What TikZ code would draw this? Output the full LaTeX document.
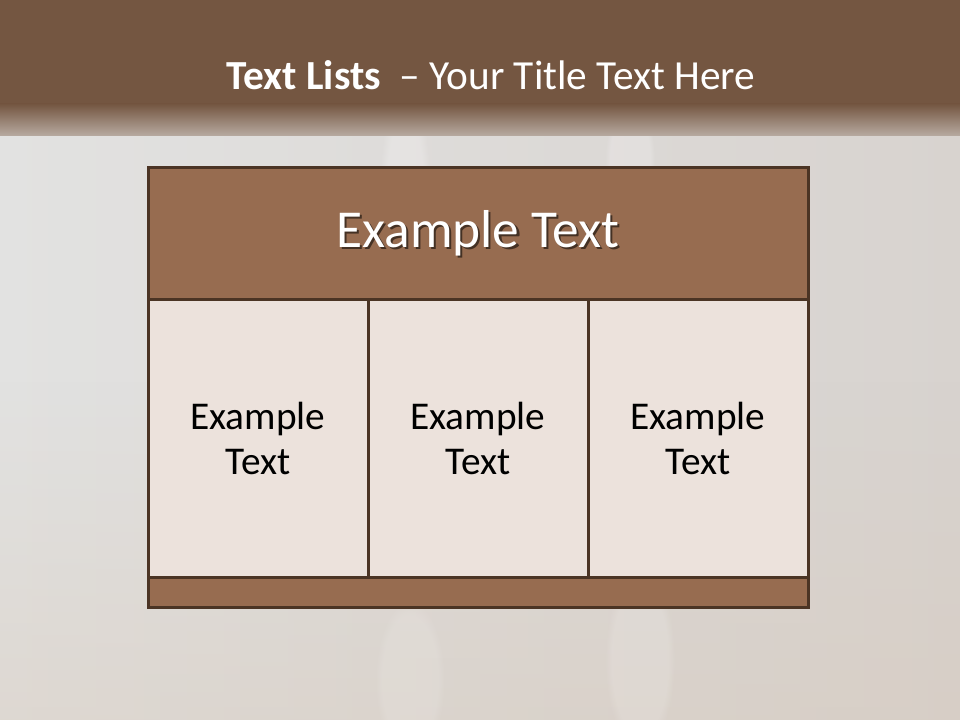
\documentclass[tikz,border=0pt]{standalone}
\usepackage{fontspec}
\setmainfont{Carlito}
\usetikzlibrary{fadings}
\definecolor{bandbrown}{HTML}{745641}
\definecolor{slidebg}{HTML}{DCD8D4}
\definecolor{slideleft}{HTML}{E2E2E1}
\definecolor{slideright}{HTML}{D8D3CF}
\definecolor{headfill}{HTML}{976C50}
\definecolor{cellfill}{HTML}{ECE2DC}
\definecolor{edgebrown}{HTML}{4B3424}
\newcommand{\shadowed}[1]{\makebox[0pt][l]{\raisebox{-1.6pt}{\hspace{1.6pt}\textcolor{black!55!headfill}{#1}}}#1}
\begin{document}
\begin{tikzpicture}[x=0.75pt,y=-0.75pt,line join=miter,
    framebox/.style={draw=edgebrown,line width=2.25pt,outer sep=0pt,inner sep=0pt},
    headbox/.style={framebox,fill=headfill,minimum width=495pt,minimum height=99pt,
      text=white,font=\fontsize{40}{48}\selectfont},
    cellbox/.style={framebox,fill=cellfill,minimum width=165pt,minimum height=207.75pt,
      align=center,font=\fontsize{29.5}{34}\selectfont},
    footbox/.style={framebox,fill=headfill,minimum width=495pt,minimum height=22.5pt},
    glow/.style={white,path fading=circle with fuzzy edge 20 percent}]
  \useasboundingbox (0,0) rectangle (960,720);
  % backdrop
  \shade[left color=slideleft,right color=slideright] (0,0) rectangle (960,720);
  \fill[slidebg!80!brown,opacity=0.35,path fading=north] (0,380) rectangle (960,720);
  \fill[glow,opacity=0.22] (405,300) ellipse (30 and 240);
  \fill[glow,opacity=0.2] (630,160) ellipse (25 and 60);
  \fill[glow,opacity=0.15] (640,660) ellipse (35 and 90);
  \fill[glow,opacity=0.12] (410,680) ellipse (35 and 80);
  % title band
  \fill[bandbrown] (0,0) rectangle (960,104);
  \shade[top color=bandbrown,bottom color=bandbrown!35!slidebg] (0,104) rectangle (960,136);
  \node (title) at (491,75) {\fontsize{31}{37}\selectfont\color{white}\textbf{Text Lists} \ --\ Your Title Text Here};
  % table
  \node[headbox] (head) at (478,234) {\shadowed{Example Text}};
  \foreach \cx/\cname in {258/cellA,478/cellB,698/cellC}{
    \node[cellbox] (\cname) at (\cx,438.5) {Example\\Text};
  }
  \node[footbox] (foot) at (478,592) {};
\end{tikzpicture}
\end{document}
